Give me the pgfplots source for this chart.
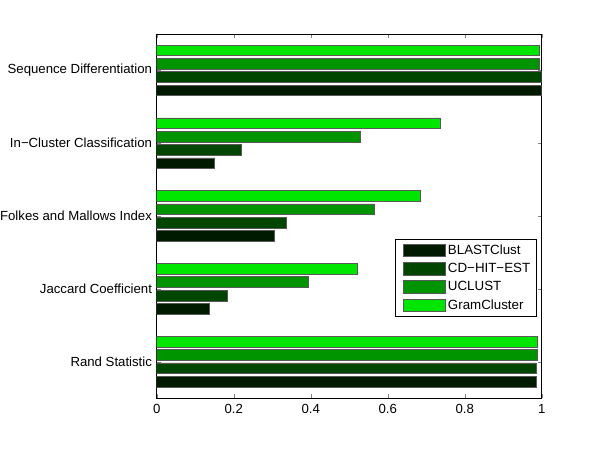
\documentclass[border=0pt]{standalone}
\usepackage{fontspec}
\setmainfont{Liberation Sans}
\usepackage{pgfplots}
\pgfplotsset{compat=1.18}

\definecolor{cBlast}{RGB}{0,26,0}
\definecolor{cCdhit}{RGB}{0,70,0}
\definecolor{cUclust}{RGB}{0,148,0}
\definecolor{cGram}{RGB}{0,230,0}

\begin{document}
\begin{tikzpicture}
\begin{axis}[
    scale only axis,
    width=288.75pt, height=273pt,
    xbar,
    xmin=0, xmax=1,
    ymin=0.5, ymax=5.5,
    xtick={0,0.2,0.4,0.6,0.8,1},
    ytick={1,2,3,4,5},
    yticklabels={Rand Statistic, Jaccard Coefficient, Folkes and Mallows Index,
                 In−Cluster Classification, Sequence Differentiation},
    tick align=inside, tick pos=both,
    major tick length=3pt,
    /pgf/number format/assume math mode=true,
    tick label style={font=\fontsize{9.9}{12}\selectfont},
    xticklabel style={yshift=-1.5pt},
    bar width=0.147,
    every axis plot/.append style={draw=black!65, line width=0.5pt},
    legend cell align=left,
    legend image code/.code={\path (0pt,0pt);
        \draw[#1] (3.5pt,-4.7pt) rectangle (34.5pt,4.7pt);},
    legend style={at={(rel axis cs:0.619,0.437)}, anchor=north west,
        draw=black, font=\fontsize{10}{12}\selectfont,
        inner xsep=2.5pt, inner ysep=2pt, row sep=1.2pt},
]
% BLASTClust
\addplot[fill=cBlast, bar shift=-0.275] coordinates {
    (0.987,1) (0.138,2) (0.305,3) (0.151,4) (1.0,5)
};
\addlegendentry{BLASTClust}
% CD-HIT-EST
\addplot[fill=cCdhit, bar shift=-0.0917] coordinates {
    (0.985,1) (0.184,2) (0.337,3) (0.221,4) (0.998,5)
};
\addlegendentry{CD−HIT−EST}
% UCLUST
\addplot[fill=cUclust, bar shift=0.0917] coordinates {
    (0.988,1) (0.393,2) (0.565,3) (0.528,4) (0.995,5)
};
\addlegendentry{UCLUST}
% GramCluster
\addplot[fill=cGram, bar shift=0.275] coordinates {
    (0.989,1) (0.520,2) (0.686,3) (0.736,4) (0.994,5)
};
\addlegendentry{GramCluster}
\end{axis}
\pgfresetboundingbox
\useasboundingbox (-117.5pt,-39pt) rectangle (332.45pt,298.5pt);
\end{tikzpicture}
\end{document}
